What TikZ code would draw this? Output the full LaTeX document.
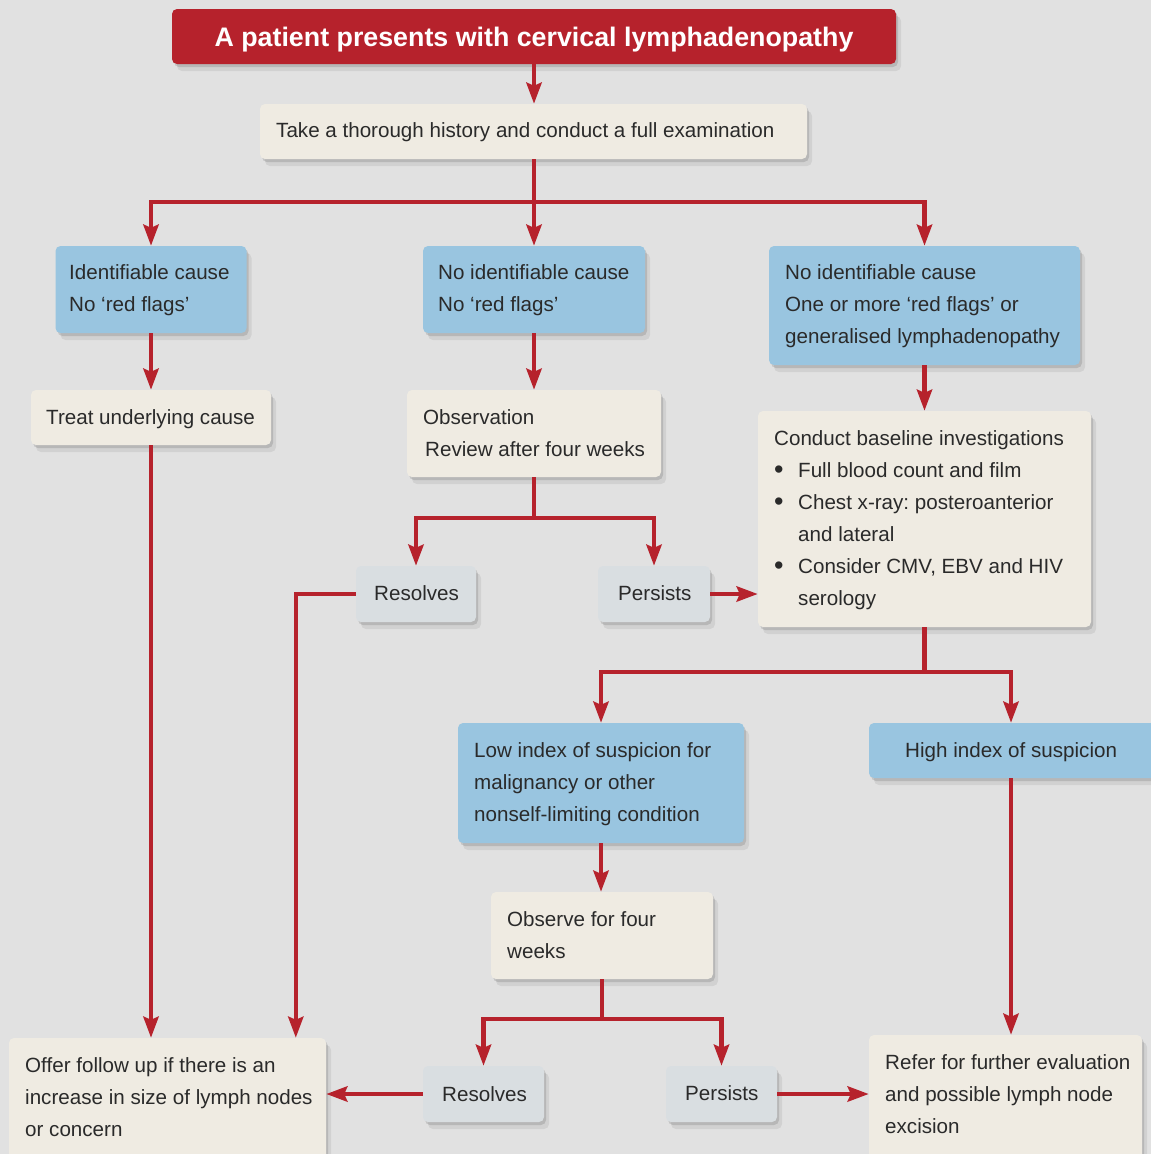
\documentclass[tikz,border=0pt]{standalone}
\usepackage{fontspec}
\setmainfont{Liberation Sans}
\usetikzlibrary{arrows.meta,shadows}
\definecolor{bgc}{HTML}{E1E1E1}
\definecolor{redc}{HTML}{B6222C}
\definecolor{bluec}{HTML}{99C5E0}
\definecolor{beigec}{HTML}{EFEBE2}
\definecolor{grayc}{HTML}{D9DEE1}
\definecolor{textc}{HTML}{2A2A2A}
\frenchspacing
\newcommand{\fs}{\rule{0pt}{15pt}}
\newcommand{\bl}{\makebox[24pt][l]{\raisebox{-1.5pt}{\fontsize{27}{32}\selectfont •}}}
\newcommand{\ind}{\hspace*{24pt}}
\begin{document}
\begin{tikzpicture}[x=1pt,y=-1pt,
  boxs/.style={rectangle, rounded corners=5pt, inner sep=0pt, draw=none,
    drop shadow={shadow xshift=2pt,shadow yshift=-3pt,opacity=0.12,fill=black},
    drop shadow={shadow xshift=5pt,shadow yshift=-7pt,opacity=0.07,fill=black}},
  redbox/.style={boxs, fill=redc},
  bluebox/.style={boxs, fill=bluec},
  beigebox/.style={boxs, fill=beigec},
  graybox/.style={boxs, fill=grayc},
  txt/.style={anchor=north west, inner sep=0pt, align=left, text=textc,
    font=\fontsize{20.6}{32}\selectfont},
  ln/.style={draw=redc, line width=4.5pt},
  arr/.style={ln, -{Stealth[length=21pt,width=15pt,inset=3pt]}}
]
\useasboundingbox (0,0) rectangle (1151,1154);
\fill[bgc] (0,0) rectangle (1151,1154);
\clip (0,0) rectangle (1151,1154);

% boxes
\node[redbox, minimum width=724pt, minimum height=55pt] (title) at (534,36.5) {};
\node[beigebox, minimum width=547pt, minimum height=55pt] (hist) at (533.5,131.5) {};
\node[bluebox, minimum width=191pt, minimum height=87pt] (idc) at (151,289.5) {};
\node[bluebox, minimum width=222pt, minimum height=87pt] (nid) at (534,289.5) {};
\node[bluebox, minimum width=311pt, minimum height=119pt] (rfl) at (924.5,305.5) {};
\node[beigebox, minimum width=240pt, minimum height=55pt] (tr) at (151,417.5) {};
\node[beigebox, minimum width=254pt, minimum height=87pt] (obs) at (534,433.5) {};
\node[beigebox, minimum width=333pt, minimum height=216pt] (cb) at (924.5,519) {};
\node[graybox, minimum width=120pt, minimum height=56pt] (res1) at (416,594) {};
\node[graybox, minimum width=112pt, minimum height=56pt] (per1) at (654,594) {};
\node[bluebox, minimum width=286pt, minimum height=120pt] (low) at (601,783) {};
\node[bluebox, minimum width=296pt, minimum height=55pt] (hi) at (1017,750.5) {};
\node[beigebox, minimum width=222pt, minimum height=87pt] (ob4) at (602,935.5) {};
\node[beigebox, minimum width=317pt, minimum height=137pt] (off) at (167.5,1106.5) {};
\node[graybox, minimum width=121pt, minimum height=56pt] (res2) at (483.5,1094) {};
\node[graybox, minimum width=111pt, minimum height=56pt] (per2) at (721.5,1094) {};
\node[beigebox, minimum width=273pt, minimum height=140pt] (ref) at (1005.5,1105) {};

% texts
\node[anchor=base, inner sep=0pt, text=white, font=\bfseries\fontsize{26.8}{30}\selectfont] (ttitle) at (534,46.5) {A patient presents with cervical lymphadenopathy};
\node[txt] (thist) at (276,122) {\fs Take a thorough history and conduct a full examination};
\node[txt] (tidc) at (69,264) {\fs Identifiable cause\\No ‘red flags’};
\node[txt] (tnid) at (438,264) {\fs No identifiable cause\\No ‘red flags’};
\node[txt] (trfl) at (785,264) {\fs No identifiable cause\\One or more ‘red flags’ or\\generalised lymphadenopathy};
\node[txt] (ttr) at (46,409) {\fs Treat underlying cause};
\node[txt] (tobs) at (423,409) {\fs Observation\\\hspace*{2pt}Review after four weeks};
\node[txt] (tcb) at (774,430) {\fs Conduct baseline investigations\\
  \bl Full blood count and film\\
  \bl Chest x-ray: posteroanterior\\
  \ind and lateral\\
  \bl Consider CMV, EBV and HIV\\
  \ind serology};
\node[txt] (tres1) at (374,585) {\fs Resolves};
\node[txt] (tper1) at (618,585) {\fs Persists};
\node[txt] (tlow) at (474,742) {\fs Low index of suspicion for\\malignancy or other\\nonself-limiting condition};
\node[txt] (thi) at (905,742) {\fs High index of suspicion};
\node[txt] (tob4) at (507,911) {\fs Observe for four\\weeks};
\node[txt] (toff) at (25,1057) {\fs Offer follow up if there is an\\increase in size of lymph nodes\\or concern};
\node[txt] (tres2) at (442,1086) {\fs Resolves};
\node[txt] (tper2) at (685,1085) {\fs Persists};
\node[txt] (tref) at (885,1054) {\fs Refer for further evaluation\\and possible lymph node\\excision};

% connectors
\coordinate (j1) at (534,202);
\coordinate (j2) at (534,518);
\coordinate (j3) at (924.5,672);
\coordinate (j4) at (602,1019);
\coordinate (hn) at ([xshift=-6pt]hi.north);
\coordinate (hs) at ([xshift=-6pt]hi.south);
\coordinate (rdn) at ([xshift=287pt]off.north west);

\draw[arr] (title.south) -- (title.south |- hist.north);
\draw[arr] (hist.south -| nid.north) -- (nid.north);
\draw[arr] (j1) -| (idc.north);
\draw[arr] (j1) -| (rfl.north);
\draw[arr] (idc.south) -- (tr.north);
\draw[arr] (nid.south) -- (obs.north);
\draw[arr] (rfl.south) -- (rfl.south |- cb.north);
\draw[arr] (tr.south) -- (tr.south |- off.north);
\draw[ln] (obs.south) -- (j2);
\draw[arr] (j2) -| (res1.north);
\draw[arr] (j2) -| (per1.north);
\draw[arr] (res1.west) -| (rdn);
\draw[arr] (per1.east) -- (per1.east -| cb.west);
\draw[ln] (cb.south) -- (j3);
\draw[arr] (j3) -| (low.north);
\draw[arr] (j3) -| (hn);
\draw[arr] (low.south) -- (low.south |- ob4.north);
\draw[arr] (hs) -- (hs |- ref.north);
\draw[ln] (ob4.south) -- (j4);
\draw[arr] (j4) -| (res2.north);
\draw[arr] (j4) -| (per2.north);
\draw[arr] (res2.west) -- (res2.west -| off.east);
\draw[arr] (per2.east) -- (per2.east -| ref.west);
\end{tikzpicture}
\end{document}
